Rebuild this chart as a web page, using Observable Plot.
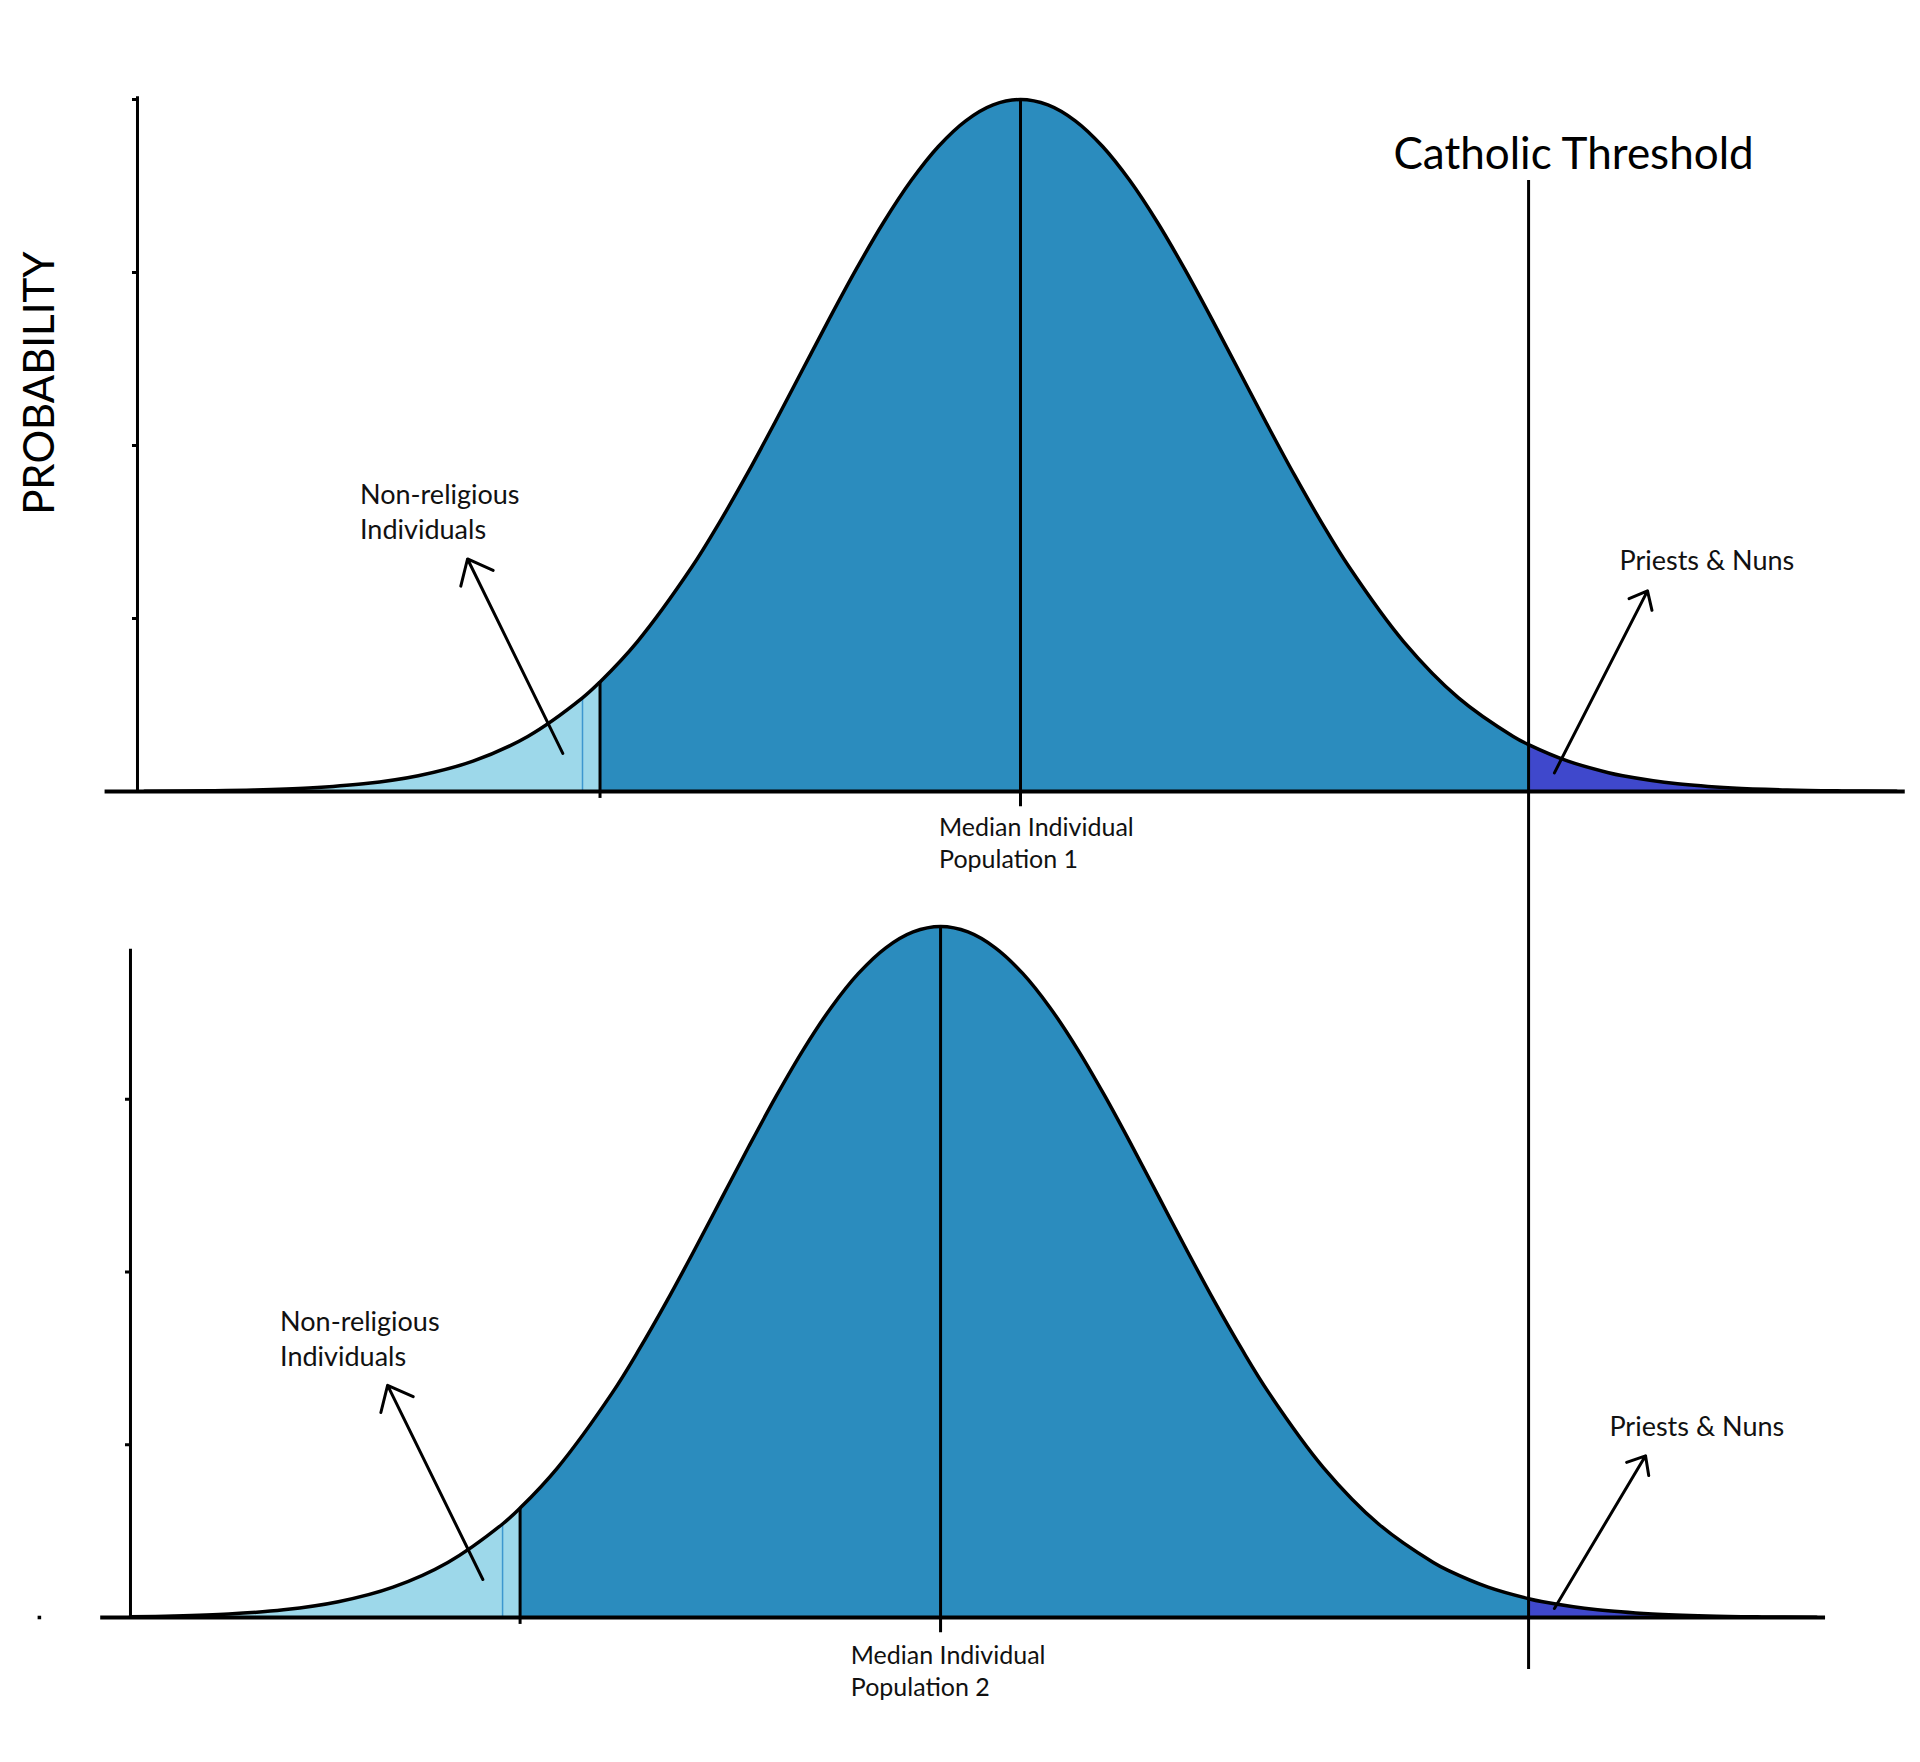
<!DOCTYPE html>
<html><head><meta charset="utf-8">
<script src="https://cdn.jsdelivr.net/npm/d3@7"></script>
<script src="https://cdn.jsdelivr.net/npm/@observablehq/plot@0.6"></script>
<style>
body{margin:0;background:#fff;}
#chart{width:1920px;height:1762px;position:relative;background:#fff;}
#chart svg{display:block;overflow:visible;}
</style></head><body><div id="chart"></div>
<script>
// Religiosity axis in standard-deviation units; bell curves
const offsets = [-4, -3.7, -3.5, -3.25, -3, -2.75, -2.5, -2.25, -2, -1.92, -1.75, -1.5, -1.375, -1.25, -1.125, -1, -0.875, -0.75, -0.625, -0.5, -0.375, -0.25, -0.125, 0,
  0.125, 0.25, 0.375, 0.5, 0.625, 0.75, 0.875, 1, 1.125, 1.25, 1.375, 1.5, 1.75, 2, 2.25, 2.32, 2.5, 2.685, 2.75, 3, 3.25, 3.5, 3.75, 4];
const heights = [0.0003, 0.0011, 0.0022, 0.0051, 0.0111, 0.0228, 0.0439, 0.0796, 0.1353, 0.1583, 0.2163, 0.3247, 0.3886, 0.4578, 0.5311, 0.6065, 0.6819, 0.7548, 0.8226, 0.8825, 0.9321, 0.9692, 0.9922, 1,
  0.9922, 0.9692, 0.9321, 0.8825, 0.8226, 0.7548, 0.6819, 0.6065, 0.5311, 0.4578, 0.3886, 0.3247, 0.2163, 0.1353, 0.0796, 0.0678, 0.0439, 0.0272, 0.0228, 0.0111, 0.0051, 0.0022, 0.0009, 0.0003];

const populations = ["Population 1", "Population 2"];
const medians = [0, -0.365];
const threshold = 2.32;          // Catholic threshold
const nonReligiousCut = -1.92;   // offset from each median
const innerLine = -2;            // thin line inside the non-religious area
const yAxisX = [-4.032, -4.064];
const yAxisTop = [1.004, 0.967];
const baselineX = [[-4.18, 4.04], [-4.2, 3.676]];
const yTicks = [[0.25, 0.5, 0.75, 1], [0.25, 0.5, 0.75]];

const nonRelLabel = {dx: -3.016, y: 0.406, text: "Non-religious\nIndividuals"};
const nonRelArrow = {dx1: -2.09, y1: 0.055, dx2: -2.525, y2: 0.336};
const priestLabels = [{x: 2.735, y: 0.332}, {x: 2.689, y: 0.275}];
const priestArrows = [{x1: 2.438, y1: 0.027, x2: 2.863, y2: 0.29}, {x1: 2.438, y1: 0.013, x2: 2.854, y2: 0.234}];
const medianLabels = [{x: -0.372, y: -0.073}, {x: -0.775, y: -0.075}];
const titleText = {x: 1.703, y: 0.92, text: "Catholic Threshold"};
const yTitle = {x: -4.475, y: 0.59, text: "PROBABILITY"};
const strayDot = {x: -4.48, y: 0};

const xDomain = [-4, 4], xRange = [144, 1896];
const xPx = d3.scaleLinear(xDomain, xRange);
const layout = [
  {height: 880, marginTop: 180, marginBottom: 0, yRange: [791, 99]},
  {height: 882, marginTop: 0, marginBottom: 93, yRange: [737, 46]}
];
const FONT = "Lato, 'Open Sans', sans-serif";

function panel(i) {
  const m = medians[i], L = layout[i];
  const eps = 1e-6;
  const data = offsets.map((o, k) => ({o, x: m + o, y: heights[k]})).filter(d => d.x >= yAxisX[i] - 0.01);
  const light = data.filter(d => d.o <= nonReligiousCut + eps);
  const mid = data.filter(d => d.o >= nonReligiousCut - eps && d.x <= threshold + eps);
  const tail = data.filter(d => d.x >= threshold - eps);
  const cutH = heights[offsets.indexOf(nonReligiousCut)];
  const innerH = heights[offsets.indexOf(innerLine)];
  const peakH = heights[offsets.indexOf(0)];
  const curve = "catmull-rom";
  const marks = [
    Plot.areaY(light, {x: "x", y: "y", fill: "#9dd8ea", curve}),
    Plot.areaY(mid, {x: "x", y: "y", fill: "#2b8cbe", curve}),
    Plot.areaY(tail, {x: "x", y: "y", fill: "#3f48cc", curve}),
    Plot.ruleX([m + innerLine], {y1: 0, y2: innerH, stroke: "#3c97cf", strokeWidth: 1.5}),
    Plot.ruleX([m + nonReligiousCut], {y1: -0.01, y2: cutH, stroke: "#000", strokeWidth: 3}),
    Plot.ruleX([m], {y1: -0.022, y2: peakH, stroke: "#000", strokeWidth: 3}),
    Plot.line(data, {x: "x", y: "y", stroke: "#000", strokeWidth: 3.5, curve}),
    Plot.ruleY([0], {x1: baselineX[i][0], x2: baselineX[i][1], stroke: "#000", strokeWidth: 4}),
    Plot.ruleX([yAxisX[i]], {y1: 0, y2: yAxisTop[i], stroke: "#000", strokeWidth: 3}),
    Plot.axisY(yTicks[i], {tickSize: 5, tickFormat: () => "", strokeWidth: 3, stroke: "#000", label: null}),
    Plot.ruleX([threshold], {stroke: "#000", strokeWidth: 3}),
    Plot.text([nonRelLabel], {x: d => m + d.dx, y: "y", text: "text", fontSize: 27, textAnchor: "start", lineAnchor: "middle", lineHeight: 1.3, fill: "#111"}),
    Plot.arrow([nonRelArrow], {x1: d => m + d.dx1, y1: "y1", x2: d => m + d.dx2, y2: "y2", stroke: "#000", strokeWidth: 3, headAngle: 80, headLength: 14}),
    Plot.text([priestLabels[i]], {x: "x", y: "y", text: () => "Priests & Nuns", fontSize: 27, textAnchor: "start", lineAnchor: "middle", fill: "#111"}),
    Plot.arrow([priestArrows[i]], {x1: "x1", y1: "y1", x2: "x2", y2: "y2", stroke: "#000", strokeWidth: 3, headAngle: 80, headLength: 10}),
    Plot.text([medianLabels[i]], {x: "x", y: "y", text: () => "Median Individual\n" + populations[i], fontSize: 25, textAnchor: "start", lineAnchor: "middle", lineHeight: 1.28, fill: "#111"})
  ];
  if (i === 0) {
    marks.push(Plot.text([titleText], {x: "x", y: "y", text: "text", fontSize: 44, textAnchor: "start", lineAnchor: "middle", fill: "#000"}));
    marks.push(Plot.text([yTitle], {x: "x", y: "y", text: "text", fontSize: 42, rotate: -90, textAnchor: "middle", lineAnchor: "middle", fill: "#000"}));
  } else {
    marks.push(Plot.dot([strayDot], {x: "x", y: "y", r: 2, fill: "#000", symbol: "square"}));
  }
  return Plot.plot({
    width: 1920, height: L.height,
    marginLeft: Math.round(xPx(yAxisX[i])), marginRight: 0,
    marginTop: L.marginTop, marginBottom: L.marginBottom,
    x: {domain: xDomain, range: xRange, axis: null},
    y: {domain: [0, 1], range: L.yRange, axis: null},
    style: {fontFamily: FONT, overflow: "visible", background: "transparent", color: "#000"},
    marks
  });
}
const chart = document.getElementById("chart");
chart.append(panel(0), panel(1));
</script></body></html>
